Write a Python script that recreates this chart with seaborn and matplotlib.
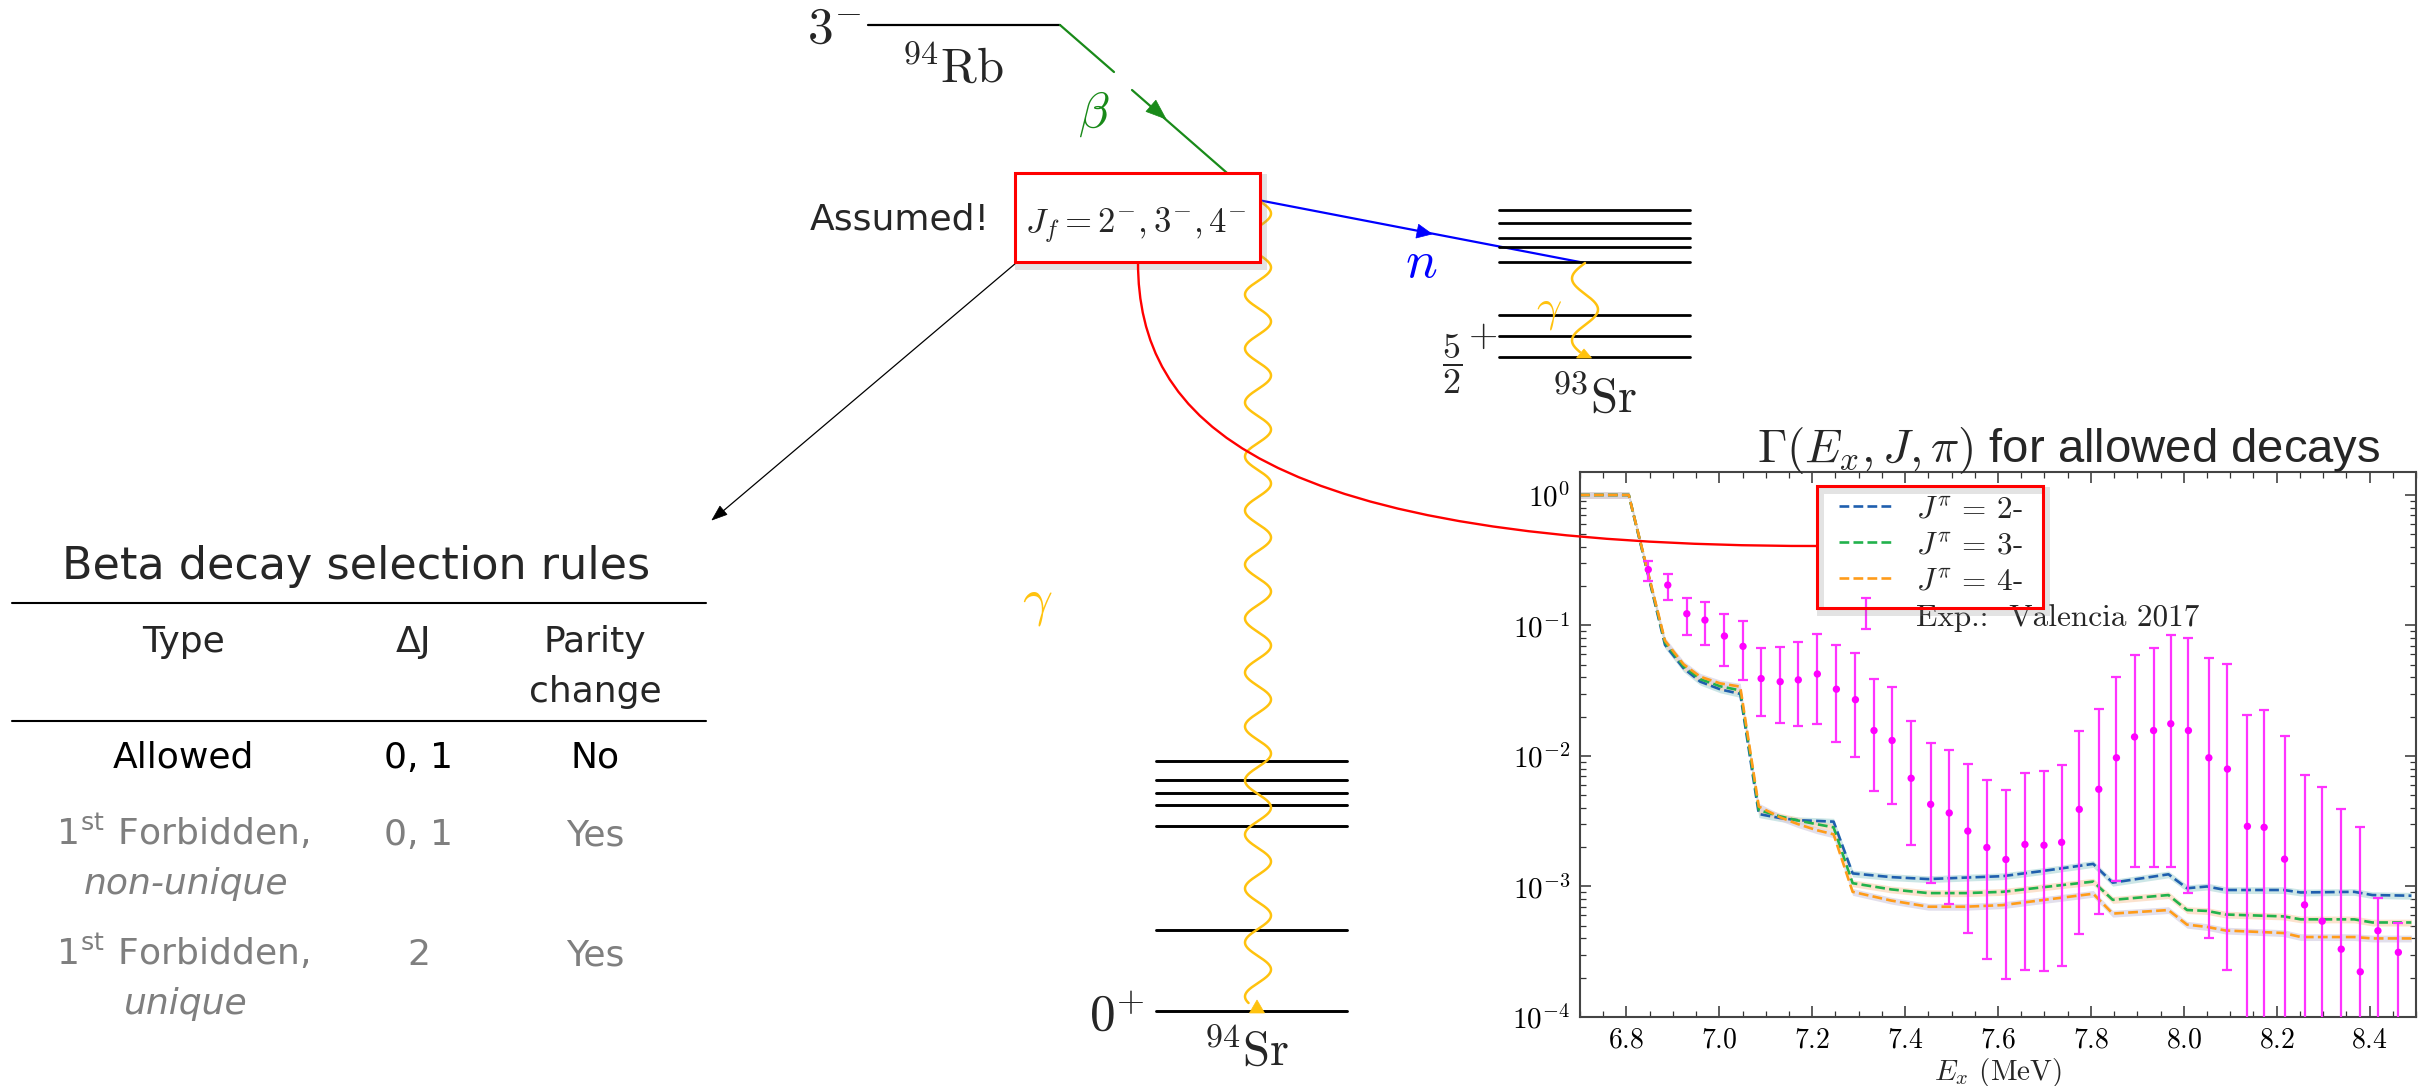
import numpy as np
import pandas as pd
import matplotlib
matplotlib.use("Agg")
import matplotlib.pyplot as plt
import seaborn as sns
from matplotlib.patches import Rectangle, Polygon, PathPatch
from matplotlib.path import Path
from matplotlib.lines import Line2D
from matplotlib.ticker import MultipleLocator, FuncFormatter, LogLocator, NullFormatter

# ---------------- data ----------------
J_labels = ["2-", "3-", "4-"]
line_colors = ["#1f5fae", "#22b24c", "#ff9c1a"]
band_colors = ["#b7dcdc", "#fbd6b8", "#d6d2e4"]

ex_model = [6.70, 6.805, 6.883, 6.923, 6.959, 7.002, 7.045, 7.085, 7.13, 7.17, 7.21, 7.246,
            7.287, 7.37, 7.45, 7.53, 7.61, 7.70, 7.805, 7.847, 7.967, 8.007, 8.05, 8.09,
            8.215, 8.252, 8.367, 8.406, 8.49]
gam_2m = [1.0, 1.0, 0.071, 0.047, 0.0371, 0.0324, 0.0299, 0.00359, 0.00335, 0.00322, 0.00318, 0.00314,
          0.00126, 0.00118, 0.00114, 0.00117, 0.0012, 0.00132, 0.00149, 0.00107, 0.00124, 0.00097, 0.001,
          0.00094, 0.00094, 0.0009, 0.00091, 0.00086, 0.00085]
gam_3m = [1.0, 1.0, 0.074, 0.0487, 0.0388, 0.0342, 0.0318, 0.00385, 0.00345, 0.0032, 0.003, 0.00284,
          0.00106, 0.00095, 0.00089, 0.00089, 0.00091, 0.00099, 0.00109, 0.00079, 0.00086, 0.00066, 0.00065,
          0.00061, 0.00059, 0.00056, 0.00056, 0.00053, 0.00053]
gam_4m = [1.0, 1.0, 0.0765, 0.0504, 0.0405, 0.036, 0.034, 0.0041, 0.0034, 0.003, 0.0027, 0.00251,
          0.00091, 0.00078, 0.0007, 0.0007, 0.00072, 0.00079, 0.00088, 0.00062, 0.00066, 0.00051, 0.00049,
          0.00046, 0.00044, 0.00041, 0.00041, 0.0004, 0.0004]

ex_exp = [6.847, 6.889, 6.930, 6.969, 7.011, 7.051, 7.090, 7.131, 7.170, 7.211, 7.252, 7.293, 7.333,
          7.372, 7.413, 7.455, 7.495, 7.535, 7.576, 7.617, 7.658, 7.699, 7.737, 7.775, 7.817, 7.855,
          7.894, 7.935, 7.972, 8.010, 8.054, 8.094, 8.137, 8.173, 8.217, 8.260, 8.298, 8.339, 8.380,
          8.418, 8.462]
gam_exp = [0.268, 0.204, 0.123, 0.110, 0.083, 0.0692, 0.0392, 0.0371, 0.0383, 0.0425, 0.0325, 0.0270,
           0.01567, 0.01315, 0.00675, 0.00426, 0.00366, 0.00266, 0.00199, 0.00161, 0.0021, 0.00207,
           0.00218, 0.0039, 0.00556, 0.00969, 0.0140, 0.01567, 0.01766, 0.01567, 0.00969, 0.00794,
           0.00289, 0.00284, 0.00162, 0.000723, 0.000542, 0.000331, 0.000222, 0.000458, 0.000313]
gam_exp_hi = [0.313, 0.249, 0.161, 0.151, 0.123, 0.109, 0.0671, 0.0679, 0.0746, 0.0861, 0.0714, 0.0618,
              0.0387, 0.0340, 0.0187, 0.01259, 0.0111, 0.00867, 0.00658, 0.00546, 0.00741, 0.00769,
              0.0086, 0.0155, 0.0228, 0.040, 0.0592, 0.0671, 0.0845, 0.0798, 0.0563, 0.0510, 0.0207,
              0.0225, 0.0142, 0.00714, 0.00578, 0.00392, 0.00284, 0.000814, 0.000526]
gam_exp_lo = [0.218, 0.156, 0.0845, 0.0714, 0.049, 0.0383, 0.0201, 0.0180, 0.0169, 0.0175, 0.0128,
              0.00988, 0.00542, 0.00428, 0.00207, 0.00106, 0.000736, 0.000439, 0.000278, 0.000195,
              0.000231, 0.000225, 0.000245, 0.000434, 0.000619, 0.0011, 0.00142, 0.00142, 0.00142,
              0.000887, 0.000405, 0.000228, 1e-6, 1e-6, 1e-6, 1e-6, 1e-6, 1e-6, 1e-6, 1e-6, 1e-6]

legend_labels = [r"$J^{\pi}$ = 2-", r"$J^{\pi}$ = 3-", r"$J^{\pi}$ = 4-"]
exp_label = "Exp.:  Valencia 2017"
title_text = r"$\Gamma(E_x, J, \pi)$ for allowed decays"

# table
tbl_title = "Beta decay selection rules"
tbl_header = ["Type", "\u0394J", "Parity\nchange"]
tbl_rows = [("Allowed", None, "0, 1", "No"),
            (r"1$^{\mathregular{st}}$ Forbidden,", "non-unique", "0, 1", "Yes"),
            (r"1$^{\mathregular{st}}$ Forbidden,", "unique", "2", "Yes")]

# level schemes (pixel layout of the slide)
sr94_levels = [761, 779.7, 793, 804.7, 825.7, 930, 1010.7]
sr93_levels = [210, 223.3, 237.7, 246.7, 261.7, 315, 336, 356.7]

# ---------------- style ----------------
sns.set_style("ticks")
plt.rcParams["mathtext.fontset"] = "cm"
plt.rcParams["font.family"] = ["DejaVu Sans"]
plt.rcParams["axes.unicode_minus"] = False

W, H = 2433, 1086
fig = plt.figure(figsize=(W / 100, H / 100), dpi=100)
fig.patch.set_facecolor("white")


def fx(p):
    return p / W


def fy(p):
    return 1 - p / H


ax = fig.add_axes([fx(1580), fy(1017), (2416 - 1580) / W, (1017 - 472) / H])
ax.set_facecolor("white")
ax.set_yscale("log")

rows = []
for lab, vals in zip(J_labels, [gam_2m, gam_3m, gam_4m]):
    for x, v in zip(ex_model, vals):
        rows.append((x, v, lab))
df = pd.DataFrame(rows, columns=["Ex", "Gamma", "J"])

for vals, bc in zip([gam_2m, gam_3m, gam_4m], band_colors):
    v = np.asarray(vals)
    ax.fill_between(ex_model, v * 0.94, v * 1.06, color=bc, lw=0, alpha=0.7, zorder=1)

sns.lineplot(data=df, x="Ex", y="Gamma", hue="J", hue_order=J_labels,
             palette=dict(zip(J_labels, line_colors)), estimator=None,
             linestyle="--", linewidth=1.9, legend=False, ax=ax, zorder=2)

y = np.asarray(gam_exp)
yerr = [y - np.asarray(gam_exp_lo), np.asarray(gam_exp_hi) - y]
eb = ax.errorbar(ex_exp, gam_exp, yerr=yerr, fmt="none", ecolor="#ff33ff", elinewidth=1.6,
                 capsize=3.6, capthick=1.6, zorder=3)
sns.scatterplot(x=ex_exp, y=gam_exp, color="#ff00ff", s=28, edgecolor="none", ax=ax,
                zorder=4, legend=False)

ax.set_xlim(6.7, 8.5)
ax.set_ylim(1e-4, 1.5)
ax.xaxis.set_major_locator(MultipleLocator(0.2))
ax.xaxis.set_minor_locator(MultipleLocator(0.05))
ax.xaxis.set_major_formatter(FuncFormatter(lambda v, p: f"${v:.1f}$"))
ax.yaxis.set_major_locator(LogLocator(base=10, numticks=10))
ax.yaxis.set_minor_locator(LogLocator(base=10, subs=np.arange(2, 10) * 1.0, numticks=20))
ax.yaxis.set_major_formatter(FuncFormatter(lambda v, p: f"$10^{{{int(round(np.log10(v)))}}}$"))
ax.yaxis.set_minor_formatter(NullFormatter())
ax.tick_params(which="both", direction="in", top=True, right=True, colors="#333333",
               labelcolor="black")
ax.tick_params(which="major", length=8, width=1.1, pad=7)
ax.tick_params(axis="x", which="major", labelsize=20, pad=6)
ax.tick_params(axis="y", which="major", labelsize=21)
ax.tick_params(which="minor", length=4, width=0.9)
for s in ax.spines.values():
    s.set_color("#444444")
    s.set_linewidth(1.5)
ax.set_ylabel("")
ax.set_xlabel(r"$E_x$ (MeV)", fontsize=21, family="cmr10")
ax.xaxis.set_label_coords(0.5, -0.072)

ax.text((1757 - 1580) / 836, (1017 - 462) / 545, title_text, transform=ax.transAxes,
        ha="left", va="baseline", fontsize=34, family="Liberation Sans")

handles = [Line2D([], [], color=c, ls="--", lw=1.9) for c in line_colors] + [eb]
leg = ax.legend(handles, legend_labels + [exp_label], loc="center left",
                bbox_to_anchor=(fx(1839), fy(563)), bbox_transform=fig.transFigure,
                frameon=False, borderpad=0, borderaxespad=0, handlelength=1.75,
                handleheight=1.05, handletextpad=0.7, labelspacing=0.15,
                prop={"family": "cmr10", "size": 22.5})

# ---------------- slide overlay ----------------
deco = fig.add_axes([0, 0, 1, 1], zorder=10)
deco.set_xlim(0, W)
deco.set_ylim(H, 0)
deco.axis("off")
deco.patch.set_alpha(0)


def tri(tip, d, L, Wd, color, z=12):
    d = np.asarray(d, float)
    d = d / np.hypot(*d)
    n = np.array([-d[1], d[0]])
    tip = np.asarray(tip, float)
    b = tip - d * L
    deco.add_patch(Polygon([tip, b + n * Wd / 2, b - n * Wd / 2], closed=True,
                           fc=color, ec=color, lw=0.5, zorder=z))


def red_box(x0, y0, x1, y1, fill="none"):
    deco.add_patch(Rectangle((x0 + 3, y0 + 4), x1 - x0, y1 - y0, fill=False, ec="gray",
                             lw=5, alpha=0.22, zorder=11))
    deco.add_patch(Rectangle((x0, y0), x1 - x0, y1 - y0, fc=fill, ec="#ff0000",
                             lw=2.2, zorder=12))


GOLD = "#ffc20e"

# 94Rb
deco.plot([868, 1060], [25, 25], color="black", lw=1.6)
deco.text(862, 43, r"$3^{-}$", fontsize=37, ha="right", va="baseline")
deco.text(952, 83, r"$^{94}\mathrm{Rb}$", fontsize=35, ha="center", va="baseline")

# beta
green = "#198a19"
deco.plot([1060, 1114], [25, 72], color=green, lw=1.6)
deco.plot([1132, 1258], [90, 200], color=green, lw=1.6)
tri((1166, 119), (126, 110), 20, 15, green)
deco.text(1094, 114, r"$\beta$", fontsize=36, color=green, ha="center", va="center")

# neutron
deco.plot([1258, 1585], [200, 263], color="#0000ff", lw=1.6)
tri((1432, 234), (327, 63), 15, 14, "#0000ff")
deco.text(1421, 262, r"$n$", fontsize=38, color="#0000ff", ha="center", va="center")

# 93Sr
for yl in sr93_levels:
    deco.plot([1499, 1690], [yl, yl], color="black", lw=2.0)
yy = np.linspace(263, 352, 200)
deco.plot(1585 - 13 * np.sin(2 * np.pi * (yy - 263) / 62), yy, color=GOLD, lw=1.8)
tri((1584, 349), (0, -1), 9, 15, GOLD)
deco.text(1549, 310, r"$\gamma$", fontsize=32, color=GOLD, ha="center", va="center")
deco.text(1452, 364, r"$\dfrac{5}{2}$", fontsize=26, ha="center", va="center")
deco.text(1483, 336, r"$+$", fontsize=27, ha="center", va="center")
deco.text(1594, 413, r"$^{93}\mathrm{Sr}$", fontsize=35, ha="center", va="baseline")

# long gamma to 94Sr
yy = np.linspace(200, 1003, 1600)
deco.plot(1258 + 13 * np.sin(2 * np.pi * (yy - 200) / 54), yy, color=GOLD, lw=1.8, zorder=11)
tri((1257, 1000), (0, -1), 13, 15, GOLD)
deco.text(1037, 602, r"$\gamma$", fontsize=38, color=GOLD, ha="center", va="center")

# 94Sr
for yl in sr94_levels:
    deco.plot([1156, 1347], [yl, yl], color="black", lw=2.1)
deco.text(1145, 1031, r"$0^{+}$", fontsize=37, ha="right", va="baseline")
deco.text(1246, 1066, r"$^{94}\mathrm{Sr}$", fontsize=35, ha="center", va="baseline")

# J_f box
red_box(1015, 173, 1260, 262, fill="white")
deco.text(1136, 233, r"$J_f = 2^{-}, 3^{-}, 4^{-}$", fontsize=25, ha="center", va="baseline", zorder=13)
deco.text(810, 230, "Assumed!", fontsize=26, ha="left", va="baseline")

# connectors
deco.plot([1016, 716], [263, 517], color="black", lw=0.9)
tri((712, 520), (-304, 257), 15, 11, "black")
curve = Path([(1138, 262), (1138, 420), (1260, 546), (1817, 546)],
             [Path.MOVETO, Path.CURVE4, Path.CURVE4, Path.CURVE4])
deco.add_patch(PathPatch(curve, fc="none", ec="#ff0000", lw=1.7, zorder=12))

# legend highlight box
red_box(1817, 486, 2043, 608)

# table
GRAY = "#7f7f7f"
cx = [183, 413, 595]
deco.text(356, 579, tbl_title, fontsize=32, ha="center", va="baseline")
deco.plot([12, 706], [603, 603], color="black", lw=1.5)
deco.text(cx[0], 652, tbl_header[0], fontsize=26, ha="center", va="baseline")
deco.text(cx[1], 652, tbl_header[1], fontsize=26, ha="center", va="baseline")
p1, p2 = tbl_header[2].split("\n")
deco.text(cx[2], 652, p1, fontsize=26, ha="center", va="baseline")
deco.text(cx[2], 702, p2, fontsize=26, ha="center", va="baseline")
deco.plot([12, 706], [721, 721], color="black", lw=1.5)
row_base = [768, 845, 965]
for i, (name, sub, dj, par) in enumerate(tbl_rows):
    col = "black" if i == 0 else GRAY
    deco.text(cx[0], row_base[i], name, fontsize=26, ha="center", va="baseline", color=col)
    if sub:
        deco.text(cx[0] + 3, row_base[i] + 49, sub, fontsize=26, ha="center", va="baseline",
                  color=col, style="italic")
    deco.text(cx[1] + 6, row_base[i], dj, fontsize=26, ha="center", va="baseline", color=col)
    deco.text(cx[2], row_base[i], par, fontsize=26, ha="center", va="baseline", color=col)

fig.savefig("out.png", dpi=100, facecolor="white")
